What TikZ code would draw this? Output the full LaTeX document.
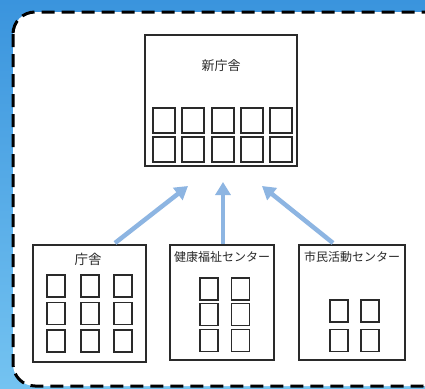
\documentclass[tikz,border=0pt]{standalone}
\usepackage{fontspec}
\newfontfamily\jpfont{Noto Sans CJK JP}
\usetikzlibrary{arrows.meta}

\definecolor{skytop}{HTML}{3A94DD}
\definecolor{skybot}{HTML}{74C3F1}
\definecolor{linkblue}{HTML}{8DB5E2}
\definecolor{inkgray}{HTML}{2A2A2A}

\tikzset{
  bldg/.style={draw=inkgray, line width=1.4pt, fill=white, minimum width=#1, inner sep=0pt},
  win/.style={draw=inkgray, line width=1.3pt, minimum width=18pt, minimum height=22pt, inner sep=0pt},
  bigwin/.style={win, minimum width=22pt, minimum height=25pt},
  tag/.style={font=\jpfont\fontsize{12}{12}\selectfont, text=inkgray, inner sep=0pt},
  link/.style={draw=linkblue, line width=4.5pt, -{Triangle[length=13pt,width=15pt]}},
}

\begin{document}
\begin{tikzpicture}[x=1pt, y=-1pt]
  \useasboundingbox (0,0) rectangle (425,388);
  % Background
  \shade[top color=skytop, bottom color=skybot] (0,0) rectangle (425,388);
  \draw[fill=white, line width=3pt, dash pattern=on 13pt off 7pt, rounded corners=22pt]
    (13,12) rectangle (445,386);

  % New building
  \node[bldg=152pt, minimum height=131pt] (newhall) at (221,100.5) {};
  \node[tag, font=\jpfont\fontsize{13}{13}\selectfont] (newhall-t) at (221,66) {新庁舎};
  \foreach \c/\x in {1/164,2/193,3/223,4/252,5/281}
    \foreach \r/\y in {1/120.5,2/149.5}
      \node[bigwin] (nw-\c-\r) at (\x,\y) {};

  % Old buildings
  \node[bldg=113pt, minimum height=117pt] (hall) at (89.5,303.5) {};
  \node[tag, font=\jpfont\fontsize{13.5}{13.5}\selectfont] (hall-t) at (88,259) {庁舎};
  \foreach \c/\x in {1/56,2/90,3/123}
    \foreach \r/\y in {1/286,2/313.5,3/341}
      \node[win] (hw-\c-\r) at (\x,\y) {};

  \node[bldg=104pt, minimum height=115pt] (welfare) at (222,302.5) {};
  \node[tag] (welfare-t) at (222,257) {健康福祉センター};
  \foreach \c/\x in {1/209,2/240.5}
    \foreach \r/\y in {1/289,2/314.5,3/340.5}
      \node[win] (ww-\c-\r) at (\x,\y) {};

  \node[bldg=106pt, minimum height=115pt] (civic) at (352,302.5) {};
  \node[tag] (civic-t) at (352,257) {市民活動センター};
  \foreach \c/\x in {1/339,2/370}
    \foreach \r/\y in {1/311,2/340.5}
      \node[win] (cw-\c-\r) at (\x,\y) {};

  % Merge arrows
  \coordinate (a1) at (115,243);
  \coordinate (b1) at (188,186);
  \coordinate (a2) at (223,244);
  \coordinate (b2) at (223,182);
  \coordinate (a3) at (333,243);
  \coordinate (b3) at (262,186);
  \draw[link] (a1) -- (b1);
  \draw[link] (a2) -- (b2);
  \draw[link] (a3) -- (b3);
\end{tikzpicture}
\end{document}
